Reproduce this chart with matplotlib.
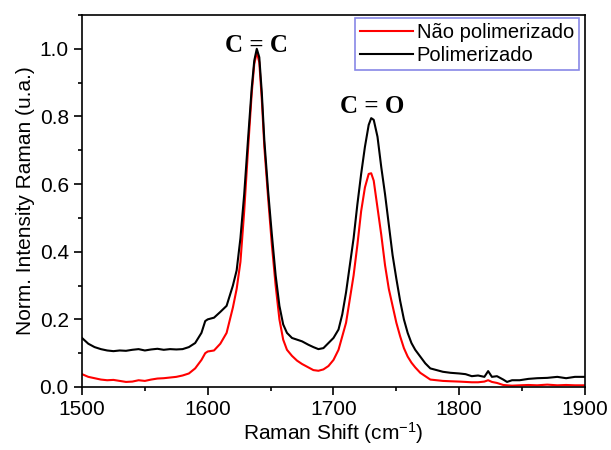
import matplotlib
matplotlib.use("Agg")
import matplotlib.pyplot as plt
from matplotlib.ticker import MultipleLocator

plt.rcParams["font.family"] = ["Liberation Sans", "DejaVu Sans"]
plt.rcParams["mathtext.default"] = "regular"

# Raman shift (cm-1)
shift = [1500, 1505, 1510, 1515, 1520, 1525, 1530, 1535, 1540, 1545,
         1550, 1555, 1560, 1565, 1570, 1575, 1580, 1585, 1590, 1595,
         1598, 1600, 1605, 1610, 1615, 1620, 1623, 1626, 1629, 1632,
         1635, 1637, 1639, 1641, 1643, 1645, 1648, 1651, 1654, 1657,
         1660, 1663, 1667, 1671, 1675, 1680, 1684, 1688, 1692, 1696,
         1700, 1704, 1707, 1710, 1713, 1716, 1719, 1722, 1725, 1728,
         1730, 1732, 1735, 1738, 1741, 1744, 1747, 1750, 1753, 1756,
         1759, 1762, 1765, 1769, 1773, 1777, 1782, 1787, 1793, 1800,
         1805, 1810, 1815, 1820, 1823, 1826, 1830, 1835, 1838, 1842,
         1848, 1855, 1862, 1870, 1878, 1885, 1892, 1900]

# polimerizado (black)
polim = [0.145, 0.128, 0.118, 0.112, 0.108, 0.106, 0.108, 0.107, 0.110, 0.112,
         0.108, 0.111, 0.113, 0.110, 0.112, 0.111, 0.112, 0.118, 0.130, 0.160,
         0.195, 0.200, 0.205, 0.222, 0.240, 0.300, 0.345, 0.440, 0.570, 0.730,
         0.885, 0.965, 1.000, 0.975, 0.870, 0.730, 0.580, 0.450, 0.330, 0.240,
         0.185, 0.160, 0.145, 0.140, 0.135, 0.125, 0.118, 0.112, 0.115, 0.130,
         0.145, 0.170, 0.215, 0.280, 0.360, 0.440, 0.540, 0.630, 0.710, 0.775,
         0.795, 0.790, 0.740, 0.650, 0.570, 0.480, 0.390, 0.320, 0.255, 0.200,
         0.160, 0.130, 0.110, 0.090, 0.070, 0.055, 0.050, 0.045, 0.042, 0.040,
         0.038, 0.032, 0.034, 0.030, 0.047, 0.030, 0.032, 0.022, 0.015, 0.020,
         0.020, 0.024, 0.026, 0.027, 0.030, 0.026, 0.030, 0.030]

# nao polimerizado (red)
nao_polim = [0.038, 0.030, 0.026, 0.022, 0.020, 0.021, 0.018, 0.015, 0.016, 0.020,
             0.018, 0.022, 0.025, 0.026, 0.028, 0.030, 0.034, 0.040, 0.055, 0.080,
             0.100, 0.105, 0.108, 0.128, 0.160, 0.235, 0.290, 0.370, 0.520, 0.700,
             0.870, 0.955, 0.990, 0.960, 0.850, 0.710, 0.560, 0.420, 0.300, 0.200,
             0.140, 0.110, 0.092, 0.078, 0.068, 0.058, 0.050, 0.048, 0.052, 0.062,
             0.080, 0.110, 0.150, 0.190, 0.260, 0.330, 0.420, 0.520, 0.590, 0.630,
             0.632, 0.610, 0.530, 0.450, 0.360, 0.290, 0.240, 0.190, 0.150, 0.115,
             0.090, 0.072, 0.058, 0.042, 0.032, 0.022, 0.020, 0.018, 0.017, 0.016,
             0.015, 0.014, 0.014, 0.016, 0.020, 0.015, 0.012, 0.006, 0.005, 0.004,
             0.005, 0.006, 0.005, 0.007, 0.005, 0.006, 0.005, 0.005]

fig = plt.figure(figsize=(6.11, 4.5), dpi=100)
ax = fig.add_axes([0.1342, 0.14, 0.8232, 0.8267])

ax.plot(shift, nao_polim, color="red", lw=1.5, label="Não polimerizado")
ax.plot(shift, polim, color="black", lw=1.5, label="Polimerizado")

ax.set_xlim(1500, 1900)
ax.set_ylim(0, 1.1)
ax.xaxis.set_major_locator(MultipleLocator(100))
ax.xaxis.set_minor_locator(MultipleLocator(50))
ax.yaxis.set_major_locator(MultipleLocator(0.2))
ax.yaxis.set_minor_locator(MultipleLocator(0.1))
ax.tick_params(which="major", direction="out", length=6, width=1.2, labelsize=15)
ax.tick_params(which="minor", direction="out", length=3, width=1.2)
for s in ax.spines.values():
    s.set_linewidth(1.2)

ax.set_xlabel("Raman Shift (cm$^{-1}$)", fontsize=15, labelpad=1)
ax.set_ylabel("Norm. Intensity Raman (u.a.)", fontsize=15, labelpad=3)

ax.text(1638.5, 1.01, "C = C", ha="center", va="center", fontsize=18,
        fontweight="bold", family="Liberation Serif")
ax.text(1730.6, 0.83, "C = O", ha="center", va="center", fontsize=18,
        fontweight="bold", family="Liberation Serif")

leg = ax.legend(loc="upper right", bbox_to_anchor=(0.988, 0.992), borderaxespad=0,
                fontsize=14.5, frameon=True, fancybox=False, handlelength=2.6,
                handletextpad=0.2, borderpad=0.25, labelspacing=0.2)
leg.get_frame().set_edgecolor("#6a6ae0")
leg.get_frame().set_linewidth(1.2)

fig.savefig("out.png", dpi=100)
